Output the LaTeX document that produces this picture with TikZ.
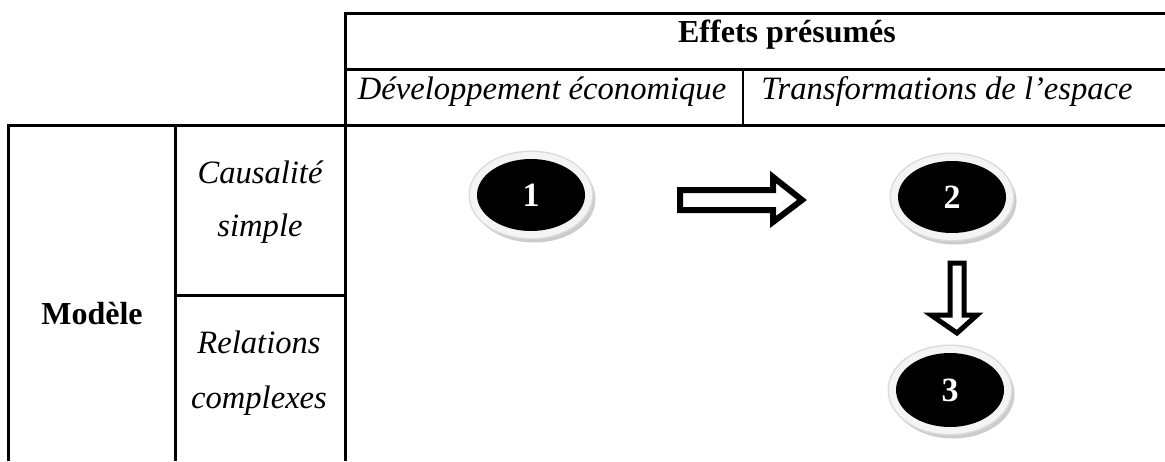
\documentclass[tikz,border=0pt]{standalone}
\usepackage{fontspec}
\setmainfont{Liberation Serif}
\usetikzlibrary{shapes.geometric}
\begin{document}
\begin{tikzpicture}[x=0.5pt,y=-0.5pt,
  rule/.style={line width=1.5pt, line join=miter},
  thinrule/.style={line width=1pt},
  lbl/.style={font=\fontsize{16.3}{19}\selectfont\itshape, anchor=base, inner sep=0pt},
  head/.style={font=\fontsize{16}{19}\selectfont\bfseries, anchor=base, inner sep=0pt},
  disc/.style={ellipse, fill=black, text=white, minimum width=54pt, minimum height=36pt,
    inner sep=0pt, font=\fontsize{17}{20}\selectfont\bfseries,
    preaction={draw=gray!40, line width=7.5pt, transform canvas={xshift=1.5pt,yshift=-2pt}},
    preaction={draw=gray!28, line width=8.5pt},
    preaction={draw=gray!9, line width=7pt}},
  blockarrow/.style={draw=black, fill=white, line join=miter, miter limit=10}]
\useasboundingbox (0,0) rectangle (1165,461);

% table frame
\draw[rule] (345,461) -- (345,13) -- (1165,13);
\draw[rule] (345,69) -- (1165,69);
\draw[rule] (8.5,461) -- (8.5,125) -- (1165,125);
\draw[rule] (175,125) -- (175,461);
\draw[rule] (175,295) -- (345,295);
\draw[thinrule] (743,69) -- (743,125);

% header texts
\node[head] (effets) at (787,42) {Effets présumés};
\node[lbl] (dev) at (542,99) {Développement économique};
\node[lbl] (transf) at (947,99) {Transformations de l’espace};

% row texts
\node[head] (modele) at (92,324) {Modèle};
\node[lbl] (causal1) at (260,183) {Causalité};
\node[lbl] (causal2) at (260,236) {simple};
\node[lbl] (rel1) at (259,353) {Relations};
\node[lbl] (rel2) at (259,408) {complexes};

% numbered discs
\node[disc] (n1) at (531,195) {1};
\node[disc] (n2) at (952,197) {2};
\node[disc, minimum height=37pt] (n3) at (950,390) {3};

% hollow block arrows
\draw[blockarrow, line width=3pt] (680,190) -- (773,190) -- (773,177) -- (802,200)
  -- (773,222) -- (773,210) -- (680,210) -- cycle;
\draw[blockarrow, line width=2.5pt] (950,263) -- (964,263) -- (964,315) -- (977,315)
  -- (957,333) -- (931,315) -- (950,315) -- cycle;
\end{tikzpicture}
\end{document}
